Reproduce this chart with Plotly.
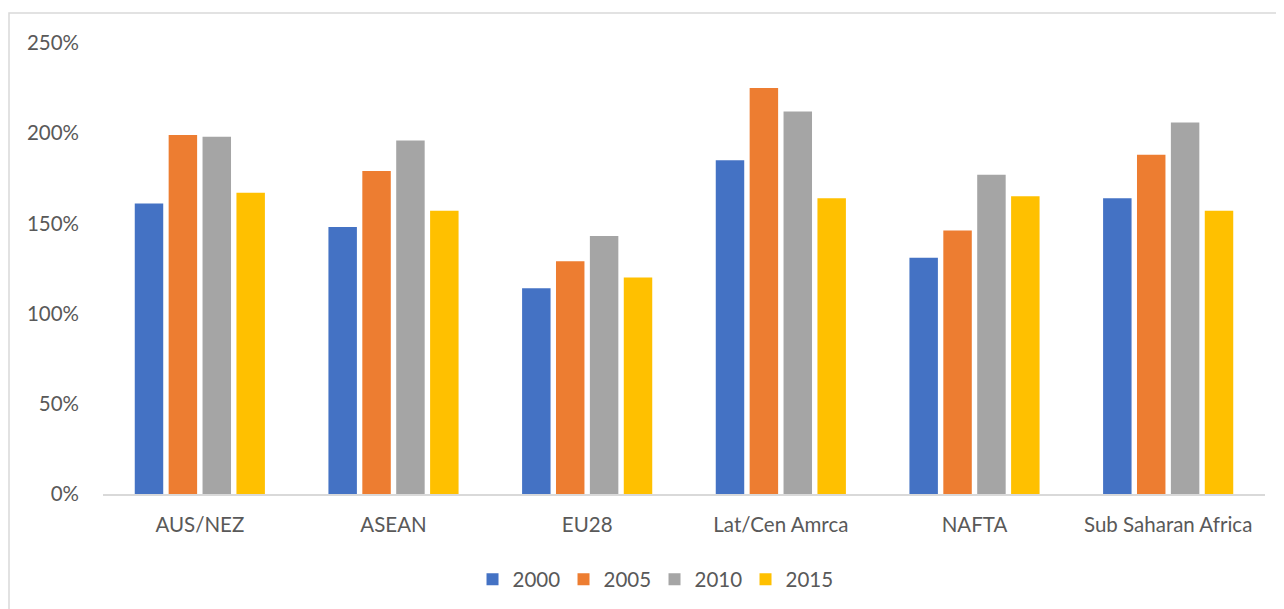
import plotly.graph_objects as go

categories = ["AUS/NEZ", "ASEAN", "EU28", "Lat/Cen Amrca", "NAFTA", "Sub Saharan Africa"]
years = ["2000", "2005", "2010", "2015"]
v2000 = [1.61, 1.48, 1.14, 1.85, 1.31, 1.64]
v2005 = [1.99, 1.79, 1.29, 2.25, 1.46, 1.88]
v2010 = [1.98, 1.96, 1.43, 2.12, 1.77, 2.06]
v2015 = [1.67, 1.57, 1.20, 1.64, 1.65, 1.57]
series = [v2000, v2005, v2010, v2015]
colors = ["#4472C4", "#ED7D31", "#A5A5A5", "#FFC000"]
y_ticks = [0, 0.5, 1.0, 1.5, 2.0, 2.5]

FONT = "Lato"
fig = go.Figure()
for name, vals, c in zip(years, series, colors):
    fig.add_trace(go.Bar(x=categories, y=vals, name=name, marker_color=c,
                         marker_line_width=0))

fig.update_layout(
    width=1284, height=609,
    margin=dict(l=95, r=27, t=35, b=123),
    paper_bgcolor="white", plot_bgcolor="white",
    barmode="group", bargap=0.30, bargroupgap=0.16,
    font=dict(family=FONT, size=20.5, color="#595959"),
    showlegend=True,
    legend=dict(orientation="h", x=0.318, xanchor="left", y=-0.145, yanchor="top",
                font=dict(size=20.5, color="#595959"), itemwidth=30,
                entrywidth=46, entrywidthmode="pixels",
                traceorder="normal"),
    xaxis=dict(showline=True, linecolor="#d9d9d9", linewidth=1.5, ticks="",
               showgrid=False, ticklabelstandoff=12),
    yaxis=dict(range=[0, 2.5], tickvals=y_ticks, tickformat=".0%", showgrid=False,
               zeroline=False, showline=False, ticks="", ticklabelstandoff=23),
    shapes=[dict(type="rect", xref="paper", yref="paper", x0=-0.0809, x1=1.2,
                 y0=-0.5, y1=1.0665, line=dict(color="#d9d9d9", width=1.5),
                 layer="below")],
)
fig.write_html("out.html")
